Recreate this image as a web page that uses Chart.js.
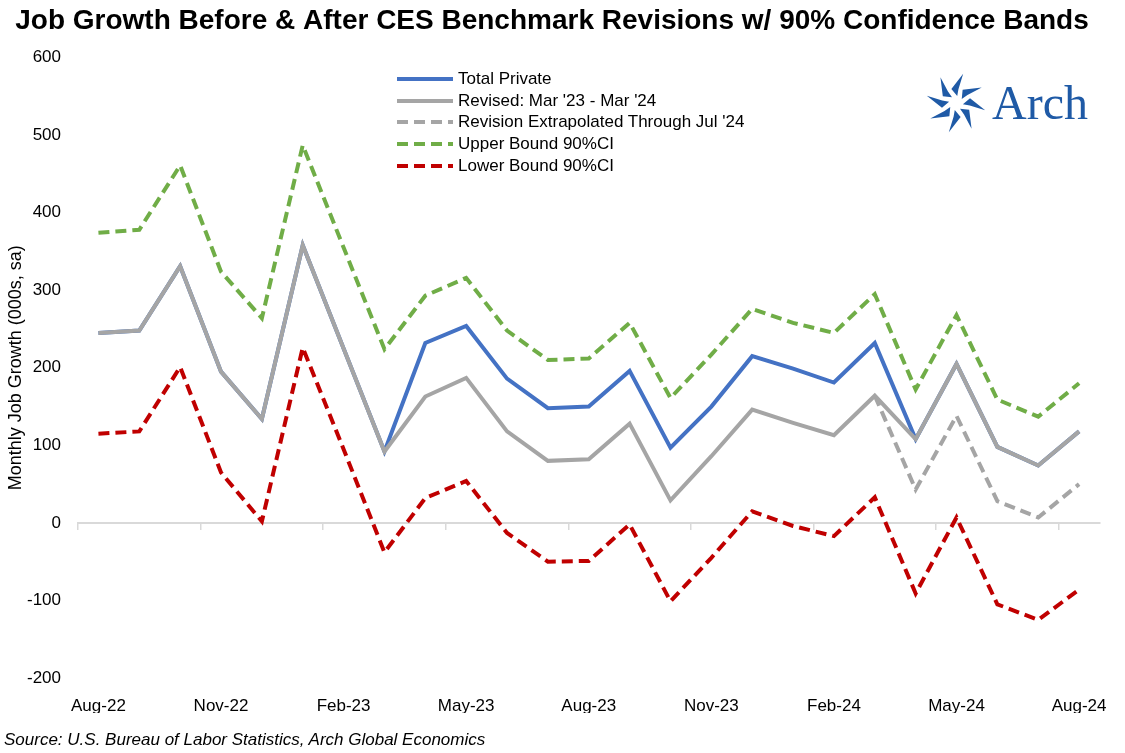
<!DOCTYPE html>
<html>
<head>
<meta charset="utf-8">
<script src="https://cdn.jsdelivr.net/npm/chart.js@4.4.1/dist/chart.umd.min.js"></script>
<style>
  html, body { margin: 0; padding: 0; background: #fff; }
  #wrap { position: relative; width: 1125px; height: 753px; }
  #legend { position: absolute; left: 397px; top: 68px; font-family: "Liberation Sans", Arial, sans-serif; font-size: 17px; color: #000; }
  #legend .row { height: 21.8px; display: flex; align-items: center; }
  #legend svg { margin-right: 5px; }
  #source { position: absolute; left: 4px; top: 730px; font-family: "Liberation Sans", Arial, sans-serif; font-size: 17px; font-style: italic; color: #000; }
  #logo { position: absolute; left: 922px; top: 68px; }
</style>
</head>
<body>
<div id="wrap">
  <canvas id="chart"></canvas>
  <div id="legend"></div>
  <svg id="logo" width="180" height="70" viewBox="0 0 180 70"></svg>
  <div id="source">Source: U.S. Bureau of Labor Statistics, Arch Global Economics</div>
</div>
<script>
const months = ['Aug-22', 'Sep-22', 'Oct-22', 'Nov-22', 'Dec-22', 'Jan-23', 'Feb-23', 'Mar-23', 'Apr-23',
  'May-23', 'Jun-23', 'Jul-23', 'Aug-23', 'Sep-23', 'Oct-23', 'Nov-23', 'Dec-23', 'Jan-24', 'Feb-24',
  'Mar-24', 'Apr-24', 'May-24', 'Jun-24', 'Jul-24', 'Aug-24'];

const totalPrivate = [245, 248, 331, 195, 134, 358, 225, 92, 232, 254, 186, 148, 150, 196, 97, 150, 215, 199, 181, 232, 108, 205, 98, 74, 118];
const revised      = [245, 248, 331, 195, 134, 358, 225, 92, 163, 187, 118, 80, 82, 128, 29, 86, 146, 129, 113, 164, 108, 205, 98, 74, 118];
const extrapolated = [null, null, null, null, null, null, null, null, null, null, null, null, null, null, null, null, null, null, null, 164, 43, 138, 28, 7, 50];
const upperBound   = [374, 378, 461, 324, 264, 487, 355, 224, 293, 316, 248, 210, 212, 258, 161, 217, 276, 258, 245, 295, 172, 268, 159, 137, 180];
const lowerBound   = [115, 118, 201, 65, 2, 226, 95, -38, 32, 54, -13, -50, -49, -2, -101, -45, 15, -4, -17, 33, -91, 7, -105, -125, -86];

const yTicks = [-200, -100, 0, 100, 200, 300, 400, 500, 600];

const font = '"Liberation Sans", Arial, sans-serif';

function line(label, data, color, dash) {
  return {
    label: label,
    data: data,
    borderColor: color,
    backgroundColor: color,
    borderWidth: 4,
    borderDash: dash || [],
    pointRadius: 0,
    tension: 0,
    fill: false,
    spanGaps: false
  };
}

// index 0 is drawn on top
const datasets = [
  line('Revised: Mar \'23 - Mar \'24', revised, '#a5a5a5'),
  line('Total Private', totalPrivate, '#4472c4'),
  line('Revision Extrapolated Through Jul \'24', extrapolated, '#a5a5a5', [11, 6]),
  line('Upper Bound 90%CI', upperBound, '#70ad47', [11, 6]),
  line('Lower Bound 90%CI', lowerBound, '#c00000', [11, 6])
];
const legendOrder = [1, 0, 2, 3, 4];

new Chart(document.getElementById('chart'), {
  type: 'line',
  data: { labels: months, datasets: datasets },
  options: {
    responsive: true,
    maintainAspectRatio: false,
    animation: false,
    layout: { padding: { left: 4, right: 25, top: 0, bottom: 40 } },
    plugins: {
      legend: { display: false },
      tooltip: { enabled: false },
      title: {
        display: true,
        text: 'Job Growth Before & After CES Benchmark Revisions w/ 90% Confidence Bands',
        color: '#000',
        font: { family: font, size: 28, weight: 'bold' },
        padding: { top: 4, bottom: 20 }
      }
    },
    scales: {
      x: {
        offset: true,
        afterFit: (scale) => { scale.height = 35; },
        grid: { display: false, drawTicks: false },
        border: { display: false },
        ticks: {
          autoSkip: false,
          maxRotation: 0,
          padding: 18,
          color: '#000',
          font: { family: font, size: 17 },
          callback: (v, i) => (i % 3 === 0 ? months[i] : '')
        }
      },
      x2: {
        type: 'category',
        labels: months,
        position: { y: 0 },
        offset: true,
        ticks: { display: false, autoSkip: false },
        grid: {
          offset: true,
          drawOnChartArea: false,
          drawTicks: true,
          tickLength: 6,
          lineWidth: 1.5,
          color: (ctx) => (ctx.index % 3 === 0 ? '#d9d9d9' : 'rgba(0,0,0,0)')
        },
        border: { display: true, color: '#d9d9d9', width: 2 }
      },
      y: {
        min: -200,
        max: 600,
        afterBuildTicks: (scale) => { scale.ticks = yTicks.map(v => ({ value: v })); },
        afterFit: (scale) => { scale.width = 74; },
        grid: { display: false, drawTicks: false },
        border: { display: false },
        ticks: { color: '#000', padding: 17, font: { family: font, size: 17 } },
        title: {
          display: true,
          text: 'Monthly Job Growth (000s, sa)',
          color: '#000',
          font: { family: font, size: 18 },
          padding: { top: 1, bottom: 0 }
        }
      }
    }
  }
});

// legend
const legend = document.getElementById('legend');
legendOrder.forEach(i => {
  const ds = datasets[i];
  const row = document.createElement('div');
  row.className = 'row';
  const dash = ds.borderDash.length ? ds.borderDash.join(' ') : 'none';
  row.innerHTML = '<svg width="56" height="6"><line x1="0" y1="3" x2="56" y2="3" stroke="' + ds.borderColor +
    '" stroke-width="4" stroke-dasharray="' + dash + '"/></svg><span>' + ds.label + '</span>';
  legend.appendChild(row);
});

// logo
const logo = document.getElementById('logo');
let star = '';
for (let k = 0; k < 8; k++) {
  star += '<path d="M0,-7 L-7,-13 L2,-30 L0,-14 Z" fill="#1f5aa6" transform="translate(34,35) rotate(' + (k * 45 + 10) + ')"/>';
}
logo.innerHTML = star + '<text x="70" y="51" font-family="Liberation Serif, DejaVu Serif, serif" font-size="48" fill="#1f5aa6">Arch</text>';
</script>
</body>
</html>
